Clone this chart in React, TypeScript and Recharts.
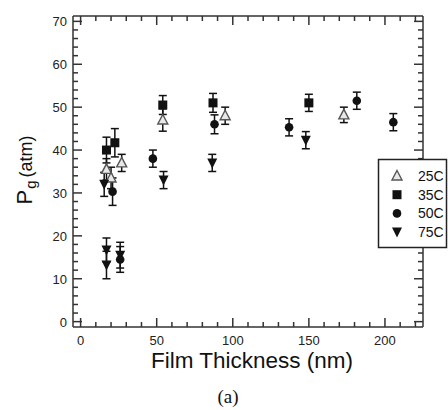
import { ScatterChart, Scatter, XAxis, YAxis, ErrorBar } from "recharts"

const seriesNames = ["25C", "35C", "50C", "75C"]

const thick25 = [17, 20, 27, 54, 95, 173]
const p25 = [35.5, 33.5, 37, 47, 48, 48.2]
const err25 = [2.5, 2.5, 2, 2.6, 2, 1.8]

const thick35 = [17, 22.5, 54, 87, 150]
const p35 = [40, 41.7, 50.5, 51, 51]
const err35 = [3, 3.3, 2.2, 2.2, 2]

const thick50 = [21, 26, 47.5, 88, 137, 181.5, 205.5]
const p50 = [30.3, 14.5, 38, 46, 45.3, 51.5, 46.5]
const err50 = [3.2, 3, 2, 2.2, 2, 2, 2]

const thick75 = [15.5, 17, 17, 26, 54.5, 86.5, 148]
const p75 = [32, 16.7, 13.2, 15.5, 33, 37, 42.3]
const err75 = [2.8, 2.8, 3.2, 3, 2, 2, 2]

const xTicks = [0, 10, 20, 30, 40, 50, 60, 70, 80, 90, 100, 110, 120, 130, 140, 150, 160, 170, 180, 190, 200, 210, 220]
const xLabels = [0, 50, 100, 150, 200]
const yTicks = [0, 2, 4, 6, 8, 10, 12, 14, 16, 18, 20, 22, 24, 26, 28, 30, 32, 34, 36, 38, 40, 42, 44, 46, 48, 50, 52, 54, 56, 58, 60, 62, 64, 66, 68, 70]
const yLabels = [0, 10, 20, 30, 40, 50, 60, 70]

const toRows = (xs, ys, es) => xs.map((x, i) => ({ x, y: ys[i], err: es[i] }))

const data25 = toRows(thick25, p25, err25)
const data35 = toRows(thick35, p35, err35)
const data50 = toRows(thick50, p50, err50)
const data75 = toRows(thick75, p75, err75)
const allRows = [...data25, ...data35, ...data50, ...data75]

const FONT = "'Liberation Sans', Arial, sans-serif"
const AXIS = "#333"

function TriUp({ cx, cy }) {
	return <polygon points={`${cx},${cy - 5.5} ${cx + 5},${cy + 4} ${cx - 5},${cy + 4}`} fill="#e8e8e8" stroke="#555" strokeWidth={1.4} />
}
function Square({ cx, cy }) {
	return <rect x={cx - 4.5} y={cy - 4.5} width={9} height={9} fill="#111" />
}
function Dot({ cx, cy }) {
	return <circle cx={cx} cy={cy} r={4.3} fill="#111" />
}
function TriDown({ cx, cy }) {
	return <polygon points={`${cx - 5},${cy - 4.5} ${cx + 5},${cy - 4.5} ${cx},${cy + 5.5}`} fill="#111" />
}
const markers = [TriUp, Square, Dot, TriDown]

function BottomTick({ x, y, payload }) {
	const v = payload.value
	const major = xLabels.includes(v)
	return (
		<g>
			<line x1={x} x2={x} y1={y} y2={y - (major ? 9 : 5)} stroke={AXIS} strokeWidth={1.5} />
			{major && (
				<text x={x} y={y + 18} textAnchor="middle" fontSize={13} fontFamily={FONT} fill="#222">
					{v}
				</text>
			)}
		</g>
	)
}
function TopTick({ x, y, payload }) {
	const major = xLabels.includes(payload.value)
	return <line x1={x} x2={x} y1={y} y2={y + (major ? 9 : 5)} stroke={AXIS} strokeWidth={1.5} />
}
function LeftTick({ x, y, payload }) {
	const v = payload.value
	const major = yLabels.includes(v)
	return (
		<g>
			<line x1={x} x2={x + (major ? 9 : 5)} y1={y} y2={y} stroke={AXIS} strokeWidth={1.5} />
			{major && (
				<text x={x - 6} y={y + 5} textAnchor="end" fontSize={13} fontFamily={FONT} fill="#222">
					{v}
				</text>
			)}
		</g>
	)
}
function RightTick({ x, y, payload }) {
	const major = yLabels.includes(payload.value)
	return <line x1={x} x2={x - (major ? 9 : 5)} y1={y} y2={y} stroke={AXIS} strokeWidth={1.5} />
}

const seriesData = [data25, data35, data50, data75]

export default function App() {
	return (
		<div style={{ position: "absolute", left: 0, top: 0, width: 448, height: 410, background: "#fff" }}>
			<ScatterChart width={448} height={410} margin={{ top: 15, right: 24, bottom: 0, left: 0 }}>
				<XAxis xAxisId="bottom" type="number" dataKey="x" orientation="bottom" height={83} domain={[-5, 225]} allowDataOverflow ticks={xTicks} interval={0} tickSize={0} tickMargin={0} tickLine={false} axisLine={{ stroke: AXIS, strokeWidth: 1.5 }} tick={BottomTick} />
				<XAxis xAxisId="top" type="number" dataKey="x" orientation="top" height={1} domain={[-5, 225]} allowDataOverflow ticks={xTicks} interval={0} tickSize={0} tickMargin={0} tickLine={false} axisLine={{ stroke: AXIS, strokeWidth: 1.5 }} tick={TopTick} />
				<YAxis yAxisId="left" type="number" dataKey="y" orientation="left" width={73} domain={[-1.25, 71.25]} allowDataOverflow ticks={yTicks} interval={0} tickSize={0} tickMargin={0} tickLine={false} axisLine={{ stroke: AXIS, strokeWidth: 1.5 }} tick={LeftTick} />
				<YAxis yAxisId="right" type="number" dataKey="y" orientation="right" width={1} domain={[-1.25, 71.25]} allowDataOverflow ticks={yTicks} interval={0} tickSize={0} tickMargin={0} tickLine={false} axisLine={{ stroke: AXIS, strokeWidth: 1.5 }} tick={RightTick} />
				{/* invisible series so the mirrored top/right axes get drawn */}
				<Scatter data={allRows} xAxisId="top" yAxisId="right" isAnimationActive={false} legendType="none" shape={() => null} />
				{seriesData.map((d, i) => {
					const M = markers[i]
					return (
						<Scatter key={seriesNames[i]} name={seriesNames[i]} data={d} xAxisId="bottom" yAxisId="left" isAnimationActive={false} shape={(p) => <M cx={p.cx} cy={p.cy} />}>
							<ErrorBar dataKey="err" direction="y" width={4} stroke="#111" strokeWidth={1.5} />
						</Scatter>
					)
				})}
			</ScatterChart>
			<svg width={448} height={410} style={{ position: "absolute", left: 0, top: 0, pointerEvents: "none" }}>
				<text x={252} y={368} textAnchor="middle" fontSize={22.5} fontFamily={FONT} fill="#111">
					Film Thickness (nm)
				</text>
				<text transform="translate(32,170) rotate(-90)" textAnchor="middle" fontFamily={FONT} fill="#111">
					<tspan fontSize={22}>P</tspan>
					<tspan fontSize={15} dy={4} dx={1}>g</tspan>
					<tspan fontSize={18} dy={-4} dx={3}>(atm)</tspan>
				</text>
				<text x={228} y={403} textAnchor="middle" fontSize={19} fontFamily="'Liberation Serif', 'Times New Roman', serif" fill="#111">
					(a)
				</text>
				<rect x={378.5} y={159.5} width={68} height={88} fill="#fff" stroke="#222" strokeWidth={1.5} />
				{seriesNames.map((name, i) => {
					const M = markers[i]
					const cy = 176 + i * 18.7
					return (
						<g key={name}>
							<M cx={397} cy={cy} />
							<text x={418} y={cy + 5} fontSize={14} fontFamily={FONT} fill="#111">
								{name}
							</text>
						</g>
					)
				})}
			</svg>
		</div>
	)
}
